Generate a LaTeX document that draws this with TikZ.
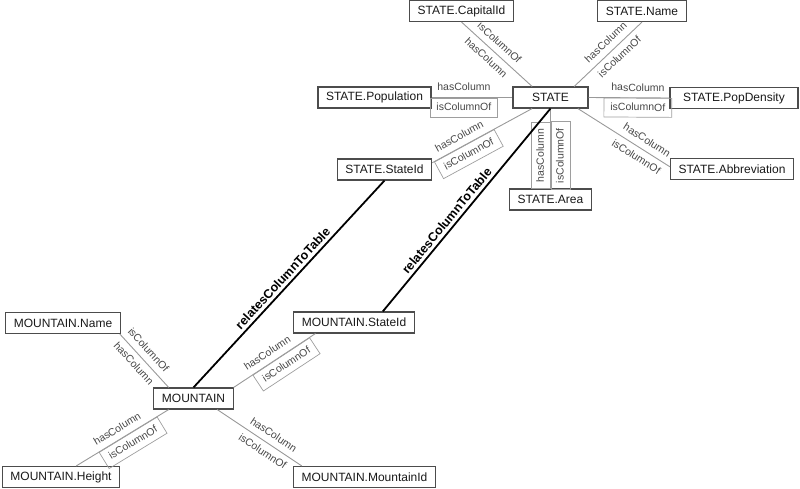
\documentclass[tikz,border=0pt]{standalone}
\usepackage{fontspec}
\setmainfont{Liberation Sans}
\definecolor{boxline}{gray}{0.3}
\definecolor{boxtext}{gray}{0.1}
\definecolor{edgeline}{gray}{0.6}
\definecolor{labeltext}{gray}{0.28}
\definecolor{labelbox}{gray}{0.62}
\begin{document}
\begin{tikzpicture}
	[
		x=1pt, y=-1pt,
		table/.style={draw=boxline, line width=1.1pt, text=boxtext, minimum height=21pt, inner xsep=8pt, inner ysep=2pt, font=\fontsize{12}{14}\selectfont},
		column/.style={draw=edgeline, line width=0.9pt},
		relates/.style={draw=black, line width=1.8pt},
		lbl/.style={sloped, text=labeltext, inner xsep=6.5pt, inner ysep=4.75pt, text height=8pt, text depth=1.5pt, font=\fontsize{10.5}{12}\selectfont},
		lblbox/.style={lbl, draw=labelbox, line width=0.7pt},
		rellbl/.style={sloped, above, inner sep=3pt, font=\bfseries\fontsize{12.5}{14}\selectfont}
	]
	\useasboundingbox (0,0) rectangle (800,488);

	\node (state)        at (550.5, 97.5) [table, minimum width=75pt] {STATE};
	\node (capital)      at (461.5, 11.0) [table] {STATE.CapitalId};
	\node (name)         at (642.0, 11.0) [table] {STATE.Name};
	\node (population)   at (374.5, 97.5) [table] {STATE.Population};
	\node (popdensity)   at (734.0, 98.0) [table, minimum width=128pt] {STATE.PopDensity};
	\node (abbreviation) at (732.0, 169.0) [table] {STATE.Abbreviation};
	\node (area)         at (550.5, 199.5) [table] {STATE.Area};
	\node (stateid)      at (384.5, 169.5) [table] {STATE.StateId};

	\node (mountain)     at (193.5, 398.5) [table] {MOUNTAIN};
	\node (mname)        at (63.0, 323.0) [table] {MOUNTAIN.Name};
	\node (mstateid)     at (354.0, 322.5) [table] {MOUNTAIN.StateId};
	\node (mheight)      at (61.0, 477.0) [table] {MOUNTAIN.Height};
	\node (mmountainid)  at (364.5, 477.0) [table] {MOUNTAIN.MountainId};

	% columns of STATE
	\draw [column] (capital.south) 
		-- node [lbl, pos=0.44, below] {hasColumn} 
		   node [lbl, pos=0.44, above] {isColumnOf} 
		(state.149);
	\draw [column] (name.south) 
		-- node [lbl, pos=0.43, above] {hasColumn} 
		   node [lbl, pos=0.43, below] {isColumnOf} 
		(state.25);
	\draw [column] (population.east) 
		-- node [lbl, pos=0.4, above] {hasColumn} 
		   node [lblbox, pos=0.4, below] {isColumnOf} 
		(state.west);
	\draw [column] (popdensity.west) 
		-- node [lbl, pos=0.39, above] {hasColumn} 
		   node [lblbox, pos=0.39, below] {isColumnOf} 
		(state.east);
	\draw [column] (abbreviation.178) 
		-- node [lbl, pos=0.31, above] {hasColumn} 
		   node [lbl, pos=0.31, below] {isColumnOf} 
		(state.-22);
	\draw [column] (area.north) 
		-- node [lblbox, pos=0.41, above] {hasColumn} 
		   node [lblbox, pos=0.41, below] {isColumnOf} 
		(state.south);
	\draw [column] (stateid.8) 
		-- node [lbl, pos=0.32, above] {hasColumn} 
		   node [lblbox, pos=0.32, below] {isColumnOf} 
		(state.211);

	% columns of MOUNTAIN
	\draw [column] (mname.-11) 
		-- node [lbl, pos=0.43, below] {hasColumn} 
		   node [lbl, pos=0.43, above] {isColumnOf} 
		(mountain.156);
	\draw [column] (mstateid.196) 
		-- node [lbl, pos=0.52, above] {hasColumn} 
		   node [lblbox, pos=0.42, below] {isColumnOf} 
		(mountain.north east);
	\draw [column] (mheight.36) 
		-- node [lbl, pos=0.5, above] {hasColumn} 
		   node [lblbox, pos=0.56, below] {isColumnOf} 
		(mountain.204);
	\draw [column] (mmountainid.170) 
		-- node [lbl, pos=0.4, above] {hasColumn} 
		   node [lbl, pos=0.4, below] {isColumnOf} 
		(mountain.-25);

	% foreign keys
	\draw [relates] (mountain.north) 
		-- node [rellbl, pos=0.5] {relatesColumnToTable} 
		(stateid.south);
	\draw [relates] (mstateid.21) 
		-- node [rellbl, pos=0.42] {relatesColumnToTable} 
		(state.south);
\end{tikzpicture}
\end{document}
